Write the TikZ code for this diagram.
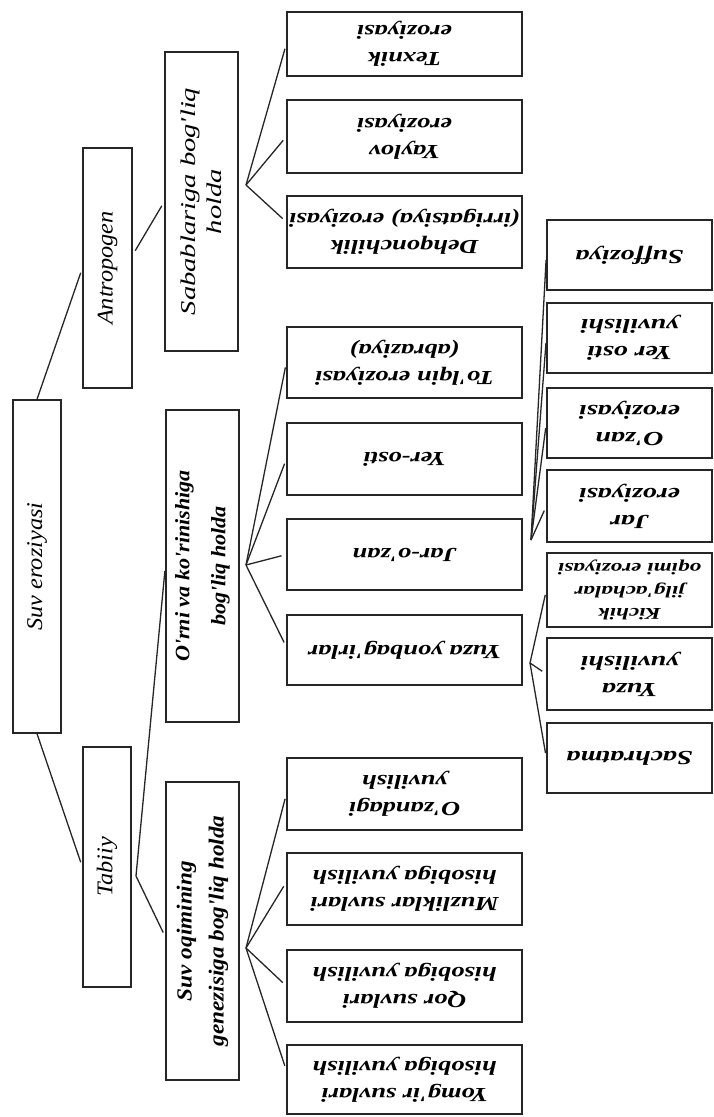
\documentclass[tikz,border=0pt]{standalone}
\usepackage{fontspec}
\setmainfont{Liberation Serif}
\newfontfamily\fa{Liberation Serif}[FakeStretch=1.08]
\newfontfamily\fb{Liberation Serif}[FakeStretch=1.32]
\newfontfamily\fc{Liberation Serif}[FakeStretch=1.4]
\newfontfamily\fd{Liberation Serif}[FakeStretch=1.36]
\begin{document}
\begin{tikzpicture}[x=1pt,y=-1pt,
  box/.style={draw=black!85, line width=1.3pt, inner sep=0pt, align=center, text=black},
  vbox/.style={box, rotate=90},
  vtext/.style={font=\fa\itshape\fontsize{22.5}{27}\selectfont},
  leaf/.style={box, rotate=180, minimum width=235pt, font=\fb\bfseries\itshape\fontsize{20}{27}\selectfont},
  leafc/.style={box, rotate=180, minimum width=165pt, font=\fc\bfseries\itshape\fontsize{20}{27}\selectfont},
  conn/.style={draw=black!85, line width=1.3pt, shorten >=5pt}]
\useasboundingbox[fill=white] (0,0) rectangle (714,1117);
% level 0-1
\node[vbox, vtext, minimum width=333pt, minimum height=48pt] (root) at (37,566.5) {Suv eroziyasi};
\node[vbox, vtext, minimum width=240pt, minimum height=49pt] (antro) at (107.5,268) {Antropogen};
\node[vbox, vtext, minimum width=240pt, minimum height=48pt] (tabiiy) at (107,867) {Tabiiy};
% level 2
\node[vbox, minimum width=299pt, minimum height=73pt, font=\fd\itshape\fontsize{21}{26}\selectfont] (sab) at (201.5,201.5) {Sabablariga bog'liq\\holda};
\node[vbox, minimum width=312pt, minimum height=73pt, font=\fa\bfseries\itshape\fontsize{20.5}{36}\selectfont] (orni) at (202.5,566) {O'rni va ko'rinishiga\\bog'liq holda};
\node[vbox, minimum width=298pt, minimum height=73pt, font=\fa\bfseries\itshape\fontsize{21.5}{32}\selectfont] (suvo) at (202.5,931) {Suv oqimining\\genezisiga bog'liq holda};
% level 3
\node[leaf, minimum height=64pt] (texnik) at (404.5,44) {Texnik\\eroziyasi};
\node[leaf, minimum height=73pt] (yaylov) at (404.5,136.5) {Yaylov\\eroziyasi};
\node[leaf, minimum height=72pt] (dehq) at (404.5,232) {Dehqonchilik\\(irrigatsiya) eroziyasi};
\node[leaf, minimum height=71pt] (tolqin) at (404.5,362.5) {To'lqin eroziyasi\\(abraziya)};
\node[leaf, minimum height=72pt] (yerosti) at (404.5,459) {Yer-osti};
\node[leaf, minimum height=71pt] (jarozan) at (404.5,554.5) {Jar-o'zan};
\node[leaf, minimum height=70pt] (yuzayon) at (404.5,650) {Yuza yonbag'irlar};
\node[leaf, minimum height=72pt] (ozandagi) at (404.5,794) {O'zandagi\\yuvilish};
\node[leaf, minimum height=72pt] (muz) at (404.5,889) {Muzliklar suvlari\\hisobiga yuvilish};
\node[leaf, minimum height=72pt] (qor) at (404.5,986) {Qor suvlari\\hisobiga yuvilish};
\node[leaf, minimum height=69pt] (yomgir) at (404.5,1079.5) {Yomg'ir suvlari\\hisobiga yuvilish};
% level 4
\node[leafc, minimum height=70pt] (suff) at (629.5,255) {Suffoziya};
\node[leafc, minimum height=70pt] (yerosti2) at (629.5,338) {Yer osti\\yuvilishi};
\node[leafc, minimum height=70pt] (ozan) at (629.5,423) {O'zan\\eroziyasi};
\node[leafc, minimum height=72pt] (jar) at (629.5,506) {Jar\\eroziyasi};
\node[leafc, minimum height=74pt, font=\fc\bfseries\itshape\fontsize{16.5}{22.5}\selectfont] (kichik) at (629.5,590) {Kichik\\jilg'achalar\\oqimi eroziyasi};
\node[leafc, minimum height=72pt] (yuzayuv) at (629.5,674) {Yuza\\yuvilishi};
\node[leafc, minimum height=70pt] (sach) at (629.5,758) {Sachratma};
% connectors
\draw[conn] (root.east) -- (antro.north);
\draw[conn] (root.west) -- (tabiiy.north);
\draw[conn, shorten <=5pt] ([yshift=13pt]antro.south) -- (sab.north);
\coordinate (jT) at (136,876);
\draw[conn] (jT) -- (orni.north);
\draw[conn] (jT) -- ([yshift=-6pt]suvo.north);
\coordinate (jS) at (246,185);
\draw[conn] (jS) -- (texnik.east);
\draw[conn] (jS) -- (yaylov.east);
\draw[conn] (jS) -- ([yshift=10pt]dehq.east);
\coordinate (jO) at (246,565);
\draw[conn] (jO) -- (tolqin.east);
\draw[conn] (jO) -- (yerosti.east);
\draw[conn] (jO) -- (jarozan.east);
\draw[conn] (jO) -- ([yshift=3pt]yuzayon.east);
\coordinate (jV) at (246,948);
\draw[conn] (jV) -- (ozandagi.east);
\draw[conn] (jV) -- ([yshift=7pt]muz.east);
\draw[conn] (jV) -- (qor.east);
\draw[conn] (jV) -- ([yshift=9pt]yomgir.east);
\coordinate (jJ) at (531,540);
\draw[conn] (jJ) -- (suff.east);
\draw[conn] (jJ) -- (yerosti2.east);
\draw[conn] (jJ) -- (ozan.east);
\draw[conn] (jJ) -- (jar.east);
\coordinate (jY) at (530,663);
\draw[conn] (jY) -- (kichik.east);
\draw[conn] (jY) -- (yuzayuv.east);
\draw[conn] (jY) -- (sach.east);
\end{tikzpicture}
\end{document}
